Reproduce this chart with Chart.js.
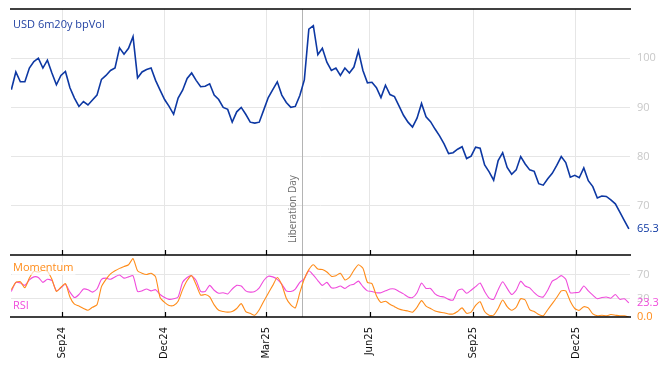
<!DOCTYPE html>
<html>
<head>
<meta charset="utf-8">
<script src="https://cdn.jsdelivr.net/npm/chart.js@4.4.1/dist/chart.umd.min.js"></script>
<style>
  html, body { margin: 0; padding: 0; background: #fff; }
  #wrap { position: relative; width: 668px; height: 366px; }
</style>
</head>
<body>
<div id="wrap"><canvas id="chart" width="668" height="366"></canvas></div>
<script>
// ===== DATA (one reading every 4 calendar days) =====
const startDate = '2024-07-18';
const stepDays = 4;

const volValues = [
  93.6, 97.2, 95.2, 95.2, 98, 99.3, 100, 98, 99.6, 97,
  94.6, 96.5, 97.3, 94, 91.9, 90.2, 91.2, 90.5, 91.5, 92.5,
  95.7, 96.5, 97.5, 98, 102.1, 100.8, 102, 104.4, 96, 97.2,
  97.7, 98, 95.5, 93.5, 91.6, 90.2, 88.6, 91.9, 93.5, 95.9,
  97, 95.5, 94.2, 94.3, 94.8, 92.5, 91.6, 90, 89.6, 87,
  89.1, 90, 88.6, 87, 86.8, 87, 89.5, 92, 93.6, 95.2,
  92.5, 91, 90, 90.2, 92.4, 95.6, 105.9, 106.6, 100.7, 102,
  99.2, 97.5, 98, 96.5, 98, 97, 98.2, 101.5, 97.5, 95,
  95.1, 94, 92, 94.5, 92.6, 92.2, 90.3, 88.4, 87, 86,
  87.8, 90.8, 88.1, 87.1, 85.6, 84.2, 82.6, 80.6, 80.8, 81.5,
  82, 79.6, 80.1, 81.9, 81.7, 78.3, 76.9, 75.2, 79.2, 80.8,
  77.8, 76.4, 77.3, 80, 78.5, 77.3, 77, 74.5, 74.2, 75.5,
  76.6, 78.2, 80, 78.8, 75.8, 76.2, 75.7, 77.7, 75.1, 73.9,
  71.6, 72, 71.9, 71.2, 70.4, 68.7, 67, 65.3
];

const momValues = [
  45, 57, 58, 48, 64, 75, 74, 77, 75, 62,
  42, 49, 55, 33, 21, 18, 14, 11, 16, 20,
  50, 62, 71, 76, 80, 83, 86, 96, 76, 72,
  70, 72, 66, 32, 24, 19, 19, 26, 45, 60,
  68, 53, 36, 37, 33, 20, 11, 9, 8, 9,
  14, 22, 9, 6, 3, 12, 26, 39, 52, 65,
  53, 31, 20, 15, 40, 63, 78, 86, 79, 78,
  74, 67, 68, 72, 61, 65, 77, 86, 80, 57,
  55, 35, 24, 26, 21, 17, 13, 11, 10, 8,
  16, 27, 18, 14, 10, 8, 7, 5, 5, 9,
  15, 6, 8, 19, 25, 9, 3, 3, 14, 28,
  17, 11, 16, 30, 28, 12, 9, 4, 2, 12,
  22, 32, 43, 43, 26, 14, 11, 17, 15, 5,
  2, 3, 2, 4, 3, 2, 2, 0
];

const rsiValues = [
  42, 57, 56, 52, 61, 66, 65, 57, 62, 60,
  43, 48, 54, 41, 32, 37, 46, 45, 41, 46,
  62, 64, 62, 66, 69, 64, 66, 68, 42, 43,
  46, 43, 45, 37, 32, 29, 30, 33, 57, 65,
  68, 60, 42, 42, 52, 44, 39, 40, 38, 46,
  52, 51, 43, 41, 42, 48, 60, 67, 66, 62,
  54, 43, 42, 46, 57, 63, 76, 69, 60, 52,
  57, 48, 48, 51, 47, 52, 54, 59, 50, 43,
  42, 40, 40, 43, 46, 46, 42, 38, 33, 32,
  40, 56, 47, 47, 38, 34, 33, 29, 28, 43,
  46, 39, 44, 50, 56, 42, 31, 29, 45, 58,
  47, 37, 44, 59, 51, 48, 40, 34, 33, 44,
  59, 63, 68, 62, 40, 40, 41, 51, 43, 36,
  30, 32, 33, 31, 37, 29, 30, 23.3
];

const monthTicks = ['2024-09-01', '2024-12-01', '2025-03-01', '2025-06-01', '2025-09-01', '2025-12-01'];
const monthLabels = ['Sep24', 'Dec24', 'Mar25', 'Jun25', 'Sep25', 'Dec25'];
const volTicks = [70, 80, 90, 100];
const oscTicks = [30, 70];
const eventDate = '2025-04-02';
const eventLabel = 'Liberation Day';

// ===== COLOURS =====
const BLUE = '#0d38a3';
const ORANGE = '#ff8c1a';
const MAGENTA = '#f04cdc';
const GRID = '#e6e6e6';
const TICKTXT = '#c8c8c8';

function dayOf(d) {
  return (Date.parse(d) - Date.parse(startDate)) / 86400000;
}
function toPoints(arr) {
  return arr.map((v, i) => ({ x: i * stepDays, y: v }));
}
// right axes: fixed width, no extra label padding top/bottom
function fitRightAxis(s) {
  s.width = 38;
  s.paddingTop = 0;
  s.paddingBottom = 0;
}

/* ------------------------------
   PANEL DECORATION PLUGIN
--------------------------------*/
const panelDecor = {
  id: 'panelDecor',
  beforeDatasetsDraw(chart) {
    const { ctx, chartArea, scales } = chart;
    const ex = Math.round(scales.x.getPixelForValue(dayOf(eventDate))) + 0.5;
    ctx.save();
    ctx.strokeStyle = '#b4b4b4';
    ctx.lineWidth = 1;
    ctx.beginPath();
    ctx.moveTo(ex, chartArea.top);
    ctx.lineTo(ex, chartArea.bottom);
    ctx.stroke();

    // event label, rotated
    ctx.fillStyle = '#6e6e6e';
    ctx.font = '10px "Open Sans"';
    ctx.translate(ex - 9, scales.yVol.bottom - 12);
    ctx.rotate(-Math.PI / 2);
    ctx.textAlign = 'left';
    ctx.textBaseline = 'middle';
    ctx.fillText(eventLabel, 0, 0);
    ctx.restore();
  },
  afterDatasetsDraw(chart) {
    const { ctx, chartArea, scales } = chart;
    const yv = scales.yVol, yo = scales.yOsc;
    ctx.save();

    // black panel borders
    ctx.strokeStyle = '#000';
    ctx.lineWidth = 1.5;
    [yv.top, yv.bottom, yo.bottom].forEach(y => {
      ctx.beginPath();
      ctx.moveTo(chartArea.left - 1, y);
      ctx.lineTo(chartArea.right + 1, y);
      ctx.stroke();
    });

    // inner tick marks at month positions
    ctx.lineWidth = 1.2;
    monthTicks.forEach(d => {
      const x = Math.round(scales.x.getPixelForValue(dayOf(d))) + 0.5;
      [yv.bottom, yo.bottom].forEach(y => {
        ctx.beginPath();
        ctx.moveTo(x, y);
        ctx.lineTo(x, y - 5);
        ctx.stroke();
      });
    });

    // series labels
    ctx.textBaseline = 'middle';
    ctx.textAlign = 'left';
    ctx.font = '11px "Open Sans"';
    ctx.fillStyle = '#2343a3';
    ctx.fillText('USD 6m20y bpVol', chartArea.left + 2, yv.top + 16);

    const mw = ctx.measureText('Momentum').width;
    ctx.fillStyle = 'rgba(255,255,255,0.65)';
    ctx.fillRect(chartArea.left + 1, yo.top + 7, mw + 3, 13);
    ctx.fillStyle = ORANGE;
    ctx.fillText('Momentum', chartArea.left + 2, yo.top + 13);
    ctx.fillStyle = MAGENTA;
    ctx.fillText('RSI', chartArea.left + 2, yo.bottom - 11);

    // last values on the right axis
    const lx = chartArea.right + 7;
    const lastVol = volValues[volValues.length - 1];
    const lastRsi = rsiValues[rsiValues.length - 1];
    const lastMom = momValues[momValues.length - 1];
    ctx.fillStyle = BLUE;
    ctx.fillText(lastVol.toFixed(1), lx, yv.getPixelForValue(lastVol));
    ctx.fillStyle = MAGENTA;
    ctx.fillText(lastRsi.toFixed(1), lx, yo.getPixelForValue(lastRsi));
    ctx.fillStyle = ORANGE;
    ctx.fillText(lastMom.toFixed(1), lx, yo.getPixelForValue(lastMom));
    ctx.restore();
  }
};

/* ------------------------------
   CHART
--------------------------------*/
const ctx = document.getElementById('chart').getContext('2d');

new Chart(ctx, {
  type: 'line',
  data: {
    datasets: [
      {
        label: 'USD 6m20y bpVol',
        data: toPoints(volValues),
        yAxisID: 'yVol',
        borderColor: BLUE,
        borderWidth: 1.6,
        pointRadius: 0,
        tension: 0
      },
      {
        label: 'Momentum',
        data: toPoints(momValues),
        yAxisID: 'yOsc',
        borderColor: ORANGE,
        borderWidth: 1.1,
        pointRadius: 0,
        tension: 0.2
      },
      {
        label: 'RSI',
        data: toPoints(rsiValues),
        yAxisID: 'yOsc',
        borderColor: MAGENTA,
        borderWidth: 1.1,
        pointRadius: 0,
        tension: 0.2
      }
    ]
  },
  options: {
    responsive: false,
    animation: false,
    layout: { padding: { left: 11, top: 9, right: 0, bottom: 0 } },
    plugins: { legend: { display: false }, tooltip: { enabled: false } },
    scales: {
      x: {
        type: 'linear',
        min: -0.3,
        max: 549,
        afterBuildTicks: s => { s.ticks = monthTicks.map(d => ({ value: dayOf(d) })); },
        afterFit: s => { s.height = 49; },
        ticks: {
          autoSkip: false,
          minRotation: 90,
          maxRotation: 90,
          padding: 10,
          color: '#111',
          font: { family: 'DejaVu Sans', size: 10 },
          callback: (v, i) => monthLabels[i]
        },
        grid: { color: GRID, drawTicks: false },
        border: { display: false }
      },
      yVol: {
        position: 'right',
        stack: 'panels',
        stackWeight: 246,
        min: 60,
        max: 110,
        afterBuildTicks: s => { s.ticks = volTicks.map(v => ({ value: v })); },
        afterFit: fitRightAxis,
        ticks: { color: TICKTXT, padding: 7, font: { family: 'Open Sans', size: 11 } },
        grid: { color: GRID, drawTicks: false },
        border: { display: false }
      },
      yOsc: {
        position: 'right',
        stack: 'panels',
        stackWeight: 62,
        min: 0,
        max: 102,
        afterBuildTicks: s => { s.ticks = oscTicks.map(v => ({ value: v })); },
        afterFit: fitRightAxis,
        ticks: { color: TICKTXT, padding: 7, font: { family: 'Open Sans', size: 11 } },
        grid: { color: GRID, drawTicks: false },
        border: { display: false }
      }
    }
  },
  plugins: [panelDecor]
});
</script>
</body>
</html>
